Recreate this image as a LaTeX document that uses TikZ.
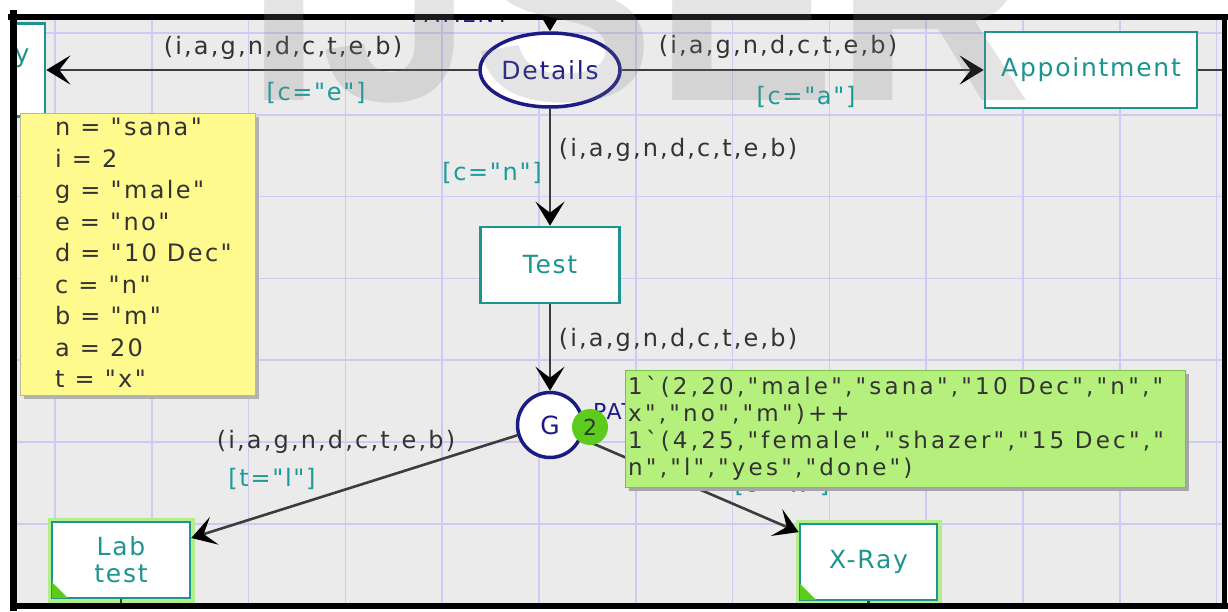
\documentclass[tikz,border=0pt]{standalone}
\usepackage{fontspec}
\setmainfont{DejaVu Sans}
\newfontfamily\fntnode[LetterSpace=7]{DejaVu Sans}
\newfontfamily\fntinscr[LetterSpace=9]{DejaVu Sans}
\newfontfamily\fntnote[LetterSpace=10]{DejaVu Sans}
\newfontfamily\fntmark[LetterSpace=14]{DejaVu Sans}
\newfontfamily\fntwm{Liberation Sans}
\usetikzlibrary{shapes.geometric,arrows.meta}
\newcommand\bq{\char"60\relax}

\definecolor{bgc}{HTML}{EBEBEB}
\definecolor{gridc}{HTML}{CBCBF3}
\definecolor{tealc}{HTML}{1E9490}
\definecolor{navyc}{HTML}{1B1B85}
\definecolor{arcc}{HTML}{3C3C3C}
\definecolor{labc}{HTML}{333333}
\definecolor{guardc}{HTML}{1E9A9A}
\definecolor{notec}{HTML}{FFFA8E}
\definecolor{notebd}{HTML}{B8B89A}
\definecolor{markc}{HTML}{B5F07D}
\definecolor{markbd}{HTML}{7CBF4A}
\definecolor{tokc}{HTML}{5CCB1C}
\definecolor{glowc}{HTML}{B2EE8C}

\begin{document}
\begin{tikzpicture}[x=1pt,y=-1pt,
  gridline/.style={gridc,line width=1.5},
  trans/.style={draw=tealc,line width=2.6,fill=white,text=tealc,
    font=\fntnode\fontsize{25}{27}\selectfont,inner sep=0,minimum height=76},
  enabled/.style={preaction={draw=glowc,line width=9}},
  place/.style={draw=navyc,line width=3.5,fill=white,text=navyc,
    font=\fntnode\fontsize{25}{27}\selectfont,inner sep=0},
  arc/.style={draw=arcc,line width=2.6,-{Stealth[length=24pt,width=29pt,inset=11pt,color=black]}},
  arcplain/.style={draw=arcc,line width=2.4},
  inscr/.style={text=labc,font=\fntinscr\fontsize{24}{26}\selectfont,inner sep=0},
  guard/.style={text=guardc,font=\fntnode\fontsize{24}{26}\selectfont,inner sep=0},
  csname/.style={text=navyc,font=\fntnode\fontsize{22}{24}\selectfont,inner sep=0}]

\useasboundingbox (0,0) rectangle (1228,611);
\fill[white] (0,0) rectangle (1228,611);

\begin{scope}
\clip (13,17) rectangle (1224,606);
\fill[bgc] (0,0) rectangle (1228,611);
% grid of the editor
\foreach \k in {0,...,12}
  \draw[gridline] ({55+96.8*\k},17) -- ({55+96.8*\k},606);
\foreach \k in {0,...,7}
  \draw[gridline] (13,{33+81.8*\k}) -- (1224,{33+81.8*\k});

% places and transitions
\node[place,ellipse,minimum width=140,minimum height=74] (det) at (550,70) {Details};
\node[csname,anchor=base] (detcs) at (460,22) {PATIENT};
\node[trans,minimum width=90,minimum height=93] (lft) at (0,70) {};
\node[text=tealc,font=\fntnode\fontsize{25}{27}\selectfont,inner sep=0] (lftname) at (22,58) {y};
\node[trans,minimum width=212] (app) at (1091,70) {Appointment};
\node[trans,minimum width=139] (test) at (550,265) {Test};
\node[place,circle,minimum size=65] (g) at (550,425) {G};
\node[csname,anchor=base west] (gcs) at (593,419) {PATIENT};
\node[trans,enabled,minimum width=138,align=center] (lab) at (121,560) {Lab\\test};
\node[trans,enabled,minimum width=137] (xray) at (868.5,562) {X-Ray};
\fill[tokc] ([shift={(1.3,-1.3)}]lab.south west) -- ++(16,0) -- ++(-16,-16) -- cycle;
\fill[tokc] ([shift={(1.3,-1.3)}]xray.south west) -- ++(16,0) -- ++(-16,-16) -- cycle;

% arcs
\coordinate (topin) at (550,0);
\coordinate (appout) at (1228,70);
\coordinate (labout) at (121,611);
\coordinate (xrayout) at (868.5,611);
\draw[arc] (topin) -- (det);
\draw[arc] (det) -- (lft);
\draw[arc] (det) -- (app);
\draw[arc] (det) -- (test);
\draw[arc] (test) -- (g);
\draw[arc] (g) -- (lab);
\draw[arc] (g) -- (xray);
\draw[arcplain] (app) -- (appout);
\draw[arcplain] (lab) -- (labout);
\draw[arcplain] (xray) -- (xrayout);

% arc inscriptions and guards
\node[inscr] (i1) at (283,48) {(i,a,g,n,d,c,t,e,b)};
\node[guard] (g1) at (316,93) {[c="e"]};
\node[inscr] (i2) at (778,47) {(i,a,g,n,d,c,t,e,b)};
\node[guard] (g2) at (806,97) {[c="a"]};
\node[inscr] (i3) at (678,150) {(i,a,g,n,d,c,t,e,b)};
\node[guard] (g3) at (492,173) {[c="n"]};
\node[inscr] (i4) at (678,340) {(i,a,g,n,d,c,t,e,b)};
\node[inscr] (i5) at (336,442) {(i,a,g,n,d,c,t,e,b)};
\node[guard] (g5) at (272,479) {[t="l"]};
\node[guard] (g6) at (782,485) {[t="x"]};

% token count
\node[circle,fill=tokc,minimum size=36,inner sep=0,text=labc,
  font=\fntnode\fontsize{22}{24}\selectfont] (tok) at (590,427) {2};

% binding note
\fill[black!30] (24,117) rectangle (259,399);
\node[draw=notebd,fill=notec,line width=1,minimum width=235,minimum height=282,inner sep=0] (note) at (137.5,254) {};
\node[anchor=west,align=left,text=labc,font=\fntnote\fontsize{24}{31.5}\selectfont,inner sep=0] (notetxt) at (55,253)
  {n = "sana"\\i = 2\\g = "male"\\e = "no"\\d = "10 Dec"\\c = "n"\\b = "m"\\a = 20\\t = "x"};

% marking of G
\fill[black!35] (629,374) rectangle (1189,491);
\node[draw=markbd,fill=markc,line width=1,minimum width=560,minimum height=117,inner sep=0] (mark) at (905,428.5) {};
\node[anchor=west,align=left,text=labc,font=\fntmark\fontsize{23}{27}\selectfont,inner sep=0] (marktxt) at (628,428)
  {1\bq(2,20,"male","sana","10 Dec","n","\\x","no","m")++\\1\bq(4,25,"female","shazer","15 Dec","\\n","l","yes","done")};
\end{scope}

% frame
\draw[line width=6] (8,17) -- (1228,17);
\draw[line width=7] (13,10) -- (13,611);
\draw[line width=6] (10,606) -- (1228,606);
\draw[line width=5] (1224.5,14) -- (1224.5,609);

% watermark
\node[anchor=base west,inner sep=0,text=black!50,opacity=0.21,
  font=\fntwm\bfseries\fontsize{272}{272}\selectfont] (wm) at (246,100) {IJSER};
\end{tikzpicture}
\end{document}
